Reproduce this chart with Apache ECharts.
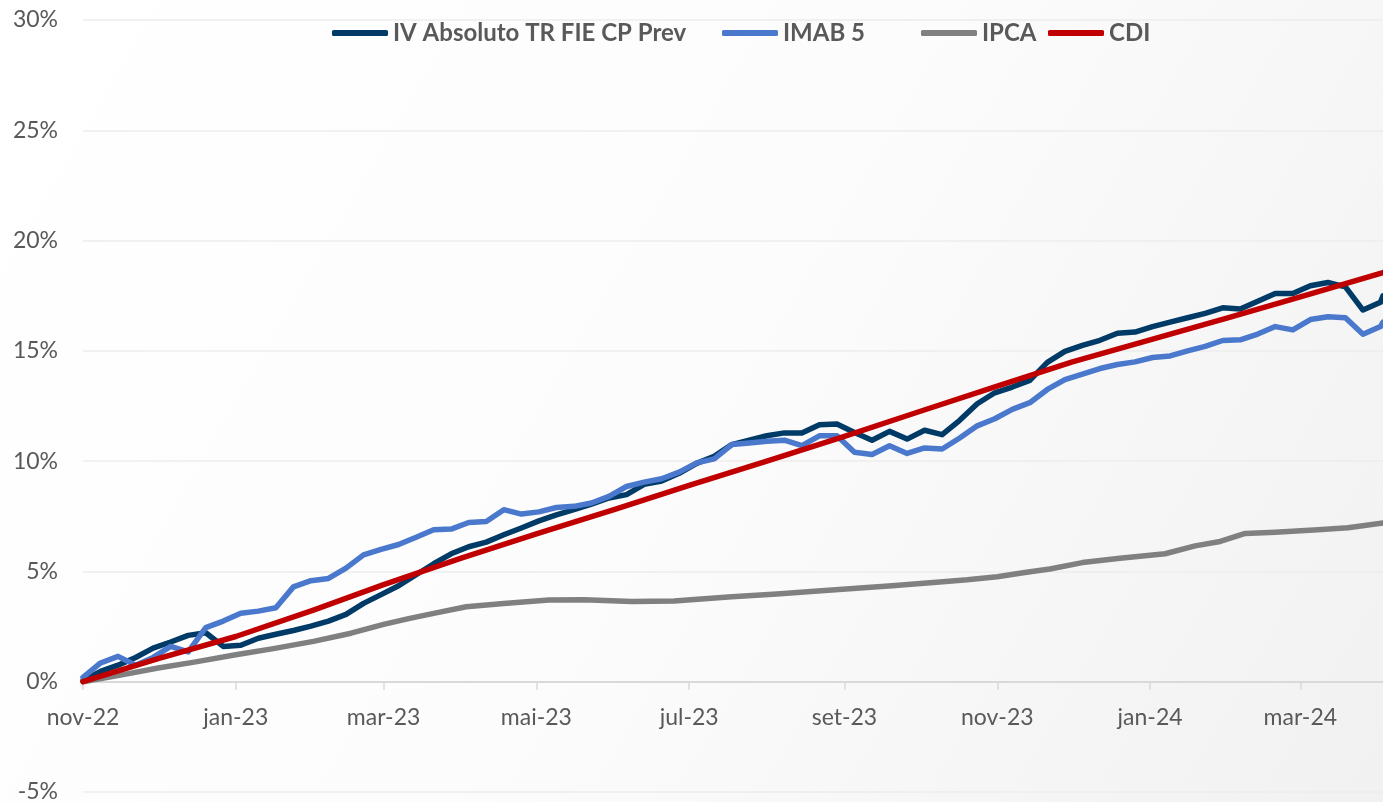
<!DOCTYPE html>
<html>
<head>
<meta charset="utf-8">
<script src="https://cdn.jsdelivr.net/npm/echarts@6.0.0/dist/echarts.min.js"></script>
<style>
  html, body { margin: 0; padding: 0; background: #fff; }
  #chart { width: 1383px; height: 802px; }
</style>
</head>
<body>
<div id="chart"></div>
<script>
// datas semanais (fundo e IMAB 5)
const weekDates = [
  '2022-11-01', '2022-11-08', '2022-11-15', '2022-11-22', '2022-11-29', '2022-12-06', '2022-12-13', '2022-12-20', '2022-12-27',
  '2023-01-03', '2023-01-10', '2023-01-17', '2023-01-24', '2023-01-31', '2023-02-07', '2023-02-14', '2023-02-21', '2023-02-28',
  '2023-03-07', '2023-03-14', '2023-03-21', '2023-03-28', '2023-04-04', '2023-04-11', '2023-04-18', '2023-04-25', '2023-05-02',
  '2023-05-09', '2023-05-16', '2023-05-23', '2023-05-30', '2023-06-06', '2023-06-13', '2023-06-20', '2023-06-27', '2023-07-04',
  '2023-07-11', '2023-07-18', '2023-07-25', '2023-08-01', '2023-08-08', '2023-08-15', '2023-08-22', '2023-08-29', '2023-09-05',
  '2023-09-12', '2023-09-19', '2023-09-26', '2023-10-03', '2023-10-10', '2023-10-17', '2023-10-24', '2023-10-31', '2023-11-07',
  '2023-11-14', '2023-11-21', '2023-11-28', '2023-12-05', '2023-12-12', '2023-12-19', '2023-12-26', '2024-01-02', '2024-01-09',
  '2024-01-16', '2024-01-23', '2024-01-30', '2024-02-06', '2024-02-13', '2024-02-20', '2024-02-27', '2024-03-05', '2024-03-12',
  '2024-03-19', '2024-03-26', '2024-04-02', '2024-04-03'
];

// retorno acumulado (%)
const ivAbsoluto = [
  0.05, 0.47, 0.75, 1.1, 1.52, 1.8, 2.1, 2.22, 1.6, 1.65,
  1.97, 2.15, 2.32, 2.52, 2.75, 3.05, 3.55, 3.95, 4.35, 4.85,
  5.35, 5.8, 6.12, 6.33, 6.66, 6.97, 7.29, 7.56, 7.8, 8.05,
  8.33, 8.48, 8.95, 9.1, 9.45, 9.9, 10.22, 10.75, 10.95, 11.15,
  11.28, 11.28, 11.65, 11.68, 11.3, 10.95, 11.35, 11.0, 11.4, 11.2,
  11.85, 12.6, 13.1, 13.36, 13.66, 14.48, 14.98, 15.25, 15.48, 15.8,
  15.85, 16.1, 16.3, 16.5, 16.7, 16.95, 16.9, 17.25, 17.6, 17.6,
  17.95, 18.1, 17.9, 16.85, 17.2, 17.5
];

const imab5 = [
  0.2, 0.85, 1.15, 0.75, 1.1, 1.6, 1.35, 2.45, 2.75, 3.1,
  3.2, 3.35, 4.3, 4.58, 4.68, 5.15, 5.75, 6.0, 6.22, 6.55,
  6.89, 6.92, 7.22, 7.26, 7.8, 7.6, 7.7, 7.9, 7.95, 8.1,
  8.4, 8.85, 9.05, 9.2, 9.5, 9.92, 10.1, 10.75, 10.82, 10.9,
  10.95, 10.7, 11.15, 11.15, 10.4, 10.3, 10.7, 10.35, 10.6, 10.55,
  11.05, 11.6, 11.92, 12.35, 12.65, 13.25, 13.7, 13.95, 14.2, 14.38,
  14.5, 14.7, 14.77, 15.0, 15.2, 15.47, 15.5, 15.76, 16.1, 15.95,
  16.42, 16.55, 16.5, 15.75, 16.1, 16.3
];

const ipcaDates = [
  '2022-11-01', '2022-11-16', '2022-12-01', '2022-12-16', '2023-01-01', '2023-01-16', '2023-02-01', '2023-02-16',
  '2023-03-01', '2023-03-11', '2023-03-21', '2023-04-03', '2023-04-18', '2023-05-06', '2023-05-20', '2023-06-08',
  '2023-06-25', '2023-07-18', '2023-08-05', '2023-08-20', '2023-09-03', '2023-09-20', '2023-10-09', '2023-10-20',
  '2023-11-01', '2023-11-12', '2023-11-22', '2023-12-05', '2023-12-20', '2024-01-07', '2024-01-19', '2024-01-29',
  '2024-02-08', '2024-02-20', '2024-03-08', '2024-03-20', '2024-04-03'
];
const ipca = [
  0.0, 0.3, 0.62, 0.9, 1.22, 1.5, 1.83, 2.2,
  2.6, 2.86, 3.1, 3.4, 3.55, 3.7, 3.72, 3.64,
  3.66, 3.85, 3.98, 4.1, 4.22, 4.35, 4.52, 4.62,
  4.76, 4.95, 5.11, 5.4, 5.6, 5.8, 6.16, 6.36,
  6.72, 6.78, 6.89, 6.98, 7.2
];

const cdiDates = [
  '2022-11-01', '2022-12-01', '2023-01-01', '2023-02-01', '2023-03-01', '2023-04-01', '2023-05-01', '2023-06-01',
  '2023-07-01', '2023-08-01', '2023-09-01', '2023-10-01', '2023-11-01', '2023-12-01', '2024-01-01', '2024-02-01',
  '2024-03-01', '2024-04-03'
];
const cdi = [
  0.0, 1.05, 2.05, 3.25, 4.4, 5.6, 6.7, 7.8,
  8.9, 10.0, 11.12, 12.25, 13.4, 14.5, 15.5, 16.5,
  17.45, 18.55
];

const monthNames = ['jan', 'fev', 'mar', 'abr', 'mai', 'jun', 'jul', 'ago', 'set', 'out', 'nov', 'dez'];

const seriesNames = ['IV Absoluto TR FIE CP Prev', 'IMAB 5', 'IPCA', 'CDI'];
const seriesColors = ['#003a66', '#4a78cc', '#808080', '#c00000'];

function pairs(dates, values) {
  return dates.map((d, i) => [d, values[i]]);
}

const FONT = 'Lato, "Open Sans", sans-serif';
const DAY = 24 * 3600 * 1000;

const chart = echarts.init(document.getElementById('chart'));

const legendBase = {
  top: 16,
  itemWidth: 56,
  itemHeight: 6,
  icon: 'roundRect',
  textStyle: { fontFamily: FONT, fontSize: 24, fontWeight: 'bold', color: '#595959' }
};
const legendLefts = [327, 717, 916, 1043];

const option = {
  backgroundColor: {
    type: 'linear', x: 0, y: 0, x2: 1, y2: 1,
    colorStops: [{ offset: 0, color: '#ffffff' }, { offset: 0.5, color: '#fcfcfc' }, { offset: 1, color: '#f1f1f1' }]
  },
  animation: false,
  legend: seriesNames.map((n, i) => Object.assign({}, legendBase, { left: legendLefts[i], data: [n] })),
  grid: { left: 83, right: 0, top: 20, bottom: 10, outerBoundsMode: 'none' },
  xAxis: {
    type: 'time',
    min: new Date(2022, 10, 1).getTime(),
    max: new Date(2024, 3, 3).getTime(),
    splitNumber: 5,
    minInterval: 62 * DAY,
    maxInterval: 62 * DAY,
    axisLine: { onZero: true, lineStyle: { color: '#d9d9d9', width: 2 } },
    axisTick: { show: true, length: 8, lineStyle: { color: '#d9d9d9', width: 1.5 } },
    splitLine: { show: false },
    axisLabel: {
      // os rótulos ficam na borda do grid; sobe até a linha do 0%
      margin: -86,
      showMaxLabel: false,
      fontFamily: FONT,
      fontSize: 23,
      color: '#595959',
      formatter: function (val) {
        const d = new Date(val);
        return monthNames[d.getMonth()] + '-' + String(d.getFullYear()).slice(2);
      }
    }
  },
  yAxis: {
    type: 'value',
    min: -5,
    max: 30,
    interval: 5,
    axisLine: { show: false },
    axisTick: { show: false },
    splitLine: { lineStyle: { color: '#ececec', width: 1.5 } },
    axisLabel: { margin: 25, fontFamily: FONT, fontSize: 23, color: '#595959', formatter: '{value}%' }
  },
  series: [
    { name: seriesNames[0], data: pairs(weekDates, ivAbsoluto) },
    { name: seriesNames[1], data: pairs(weekDates, imab5) },
    { name: seriesNames[2], data: pairs(ipcaDates, ipca) },
    { name: seriesNames[3], data: pairs(cdiDates, cdi) }
  ].map((s, i) => Object.assign(s, {
    type: 'line',
    symbol: 'none',
    color: seriesColors[i],
    lineStyle: { width: 5.5, color: seriesColors[i], cap: 'round', join: 'round' },
    itemStyle: { color: seriesColors[i] }
  }))
};

chart.setOption(option);
</script>
</body>
</html>
